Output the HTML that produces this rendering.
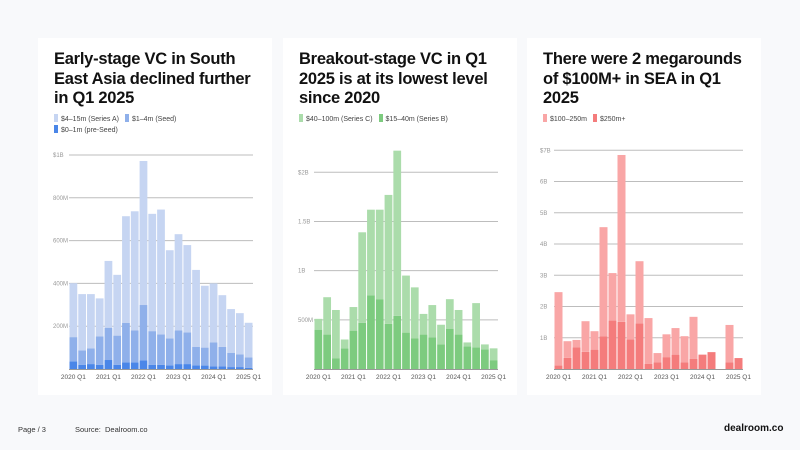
<!DOCTYPE html>
<html><head><meta charset="utf-8">
<style>
body{margin:0;width:800px;height:450px;background:#f8f9fb;font-family:"Liberation Sans",sans-serif;position:relative;overflow:hidden}
.card{position:absolute;top:38px;width:234px;height:357px;background:#fff}
.title{position:absolute;left:16px;top:12px;font-size:16.5px;font-weight:bold;line-height:19.5px;color:#111;letter-spacing:-0.25px;white-space:nowrap}
.legend{position:absolute;left:16px;font-size:7px;color:#444;line-height:11px}
.sw{display:inline-block;width:4px;height:8px;vertical-align:-1px;margin-right:3px}
.lg{margin-right:6px;white-space:nowrap}
svg{position:absolute;left:0;top:0}
.foot{position:absolute;top:425px;font-size:7.5px;color:#333}
</style></head><body>
<div class="card" style="left:38px">
 <div class="title">Early-stage VC in South<br>East Asia declined further<br>in Q1 2025</div>
 <div class="legend" style="top:76px">
  <span class="lg"><span class="sw" style="background:#c6d5f2"></span>$4–15m (Series A)</span><span class="lg"><span class="sw" style="background:#8fb0ea"></span>$1–4m (Seed)</span><br>
  <span class="lg"><span class="sw" style="background:#4a86e8"></span>$0–1m (pre-Seed)</span>
 </div>
</div>
<div class="card" style="left:283px">
 <div class="title">Breakout-stage VC in Q1<br>2025 is at its lowest level<br>since 2020</div>
 <div class="legend" style="top:76px">
  <span class="lg"><span class="sw" style="background:#abdcab"></span>$40–100m (Series C)</span><span class="lg"><span class="sw" style="background:#7dcb7f"></span>$15–40m (Series B)</span>
 </div>
</div>
<div class="card" style="left:527px">
 <div class="title">There were 2 megarounds<br>of $100M+ in SEA in Q1<br>2025</div>
 <div class="legend" style="top:76px">
  <span class="lg"><span class="sw" style="background:#f9a6a6"></span>$100–250m</span><span class="lg"><span class="sw" style="background:#f47c7c"></span>$250m+</span>
 </div>
</div>
<svg id="svg" width="800" height="450"></svg>
<div class="foot" style="left:18px">Page / 3</div>
<div class="foot" style="left:75px">Source:&nbsp; Dealroom.co</div>
<div class="foot" style="left:724px;top:423px;font-size:10px;font-weight:bold;color:#111">dealroom.co</div>
<script>
const quarters = ["2020 Q1","2020 Q2","2020 Q3","2020 Q4","2021 Q1","2021 Q2","2021 Q3","2021 Q4","2022 Q1","2022 Q2","2022 Q3","2022 Q4","2023 Q1","2023 Q2","2023 Q3","2023 Q4","2024 Q1","2024 Q2","2024 Q3","2024 Q4","2025 Q1"];
// Chart 1 ($M)
const preSeed = [36,20,23,20,42,20,31,31,40,20,19,17,23,23,17,16,12,12,9,9,6];
const seed = [113,67,73,132,151,136,184,149,259,157,143,126,157,148,87,84,112,91,67,59,48];
const seriesA = [252,263,254,178,312,284,499,557,673,548,583,412,450,408,359,289,276,242,204,193,162];
const ticks1 = [0,200,400,600,800,1000];
const tickLabels1 = ["","200M","400M","600M","800M","$1B"];
// Chart 2 ($B)
const seriesB = [0.40,0.35,0.11,0.21,0.39,0.47,0.75,0.71,0.46,0.54,0.37,0.31,0.35,0.32,0.25,0.41,0.35,0.23,0.22,0.20,0.09];
const seriesC = [0.11,0.38,0.49,0.09,0.24,0.92,0.87,0.91,1.31,1.68,0.58,0.52,0.21,0.33,0.20,0.30,0.25,0.04,0.45,0.05,0.12];
const ticks2 = [0,0.5,1,1.5,2];
const tickLabels2 = ["","500M","1B","1.5B","$2B"];
// Chart 3 ($B)
const mega250 = [0.11,0.36,0.69,0.55,0.62,1.05,1.55,1.51,0.95,1.46,0.17,0.21,0.38,0.46,0.21,0.33,0.46,0.54,0,0.21,0.35];
const mega100 = [2.35,0.53,0.24,0.98,0.59,3.49,1.52,5.34,0.80,1.99,1.46,0.30,0.73,0.85,0.84,1.34,0,0,0,1.20,0];
const ticks3 = [0,1,2,3,4,5,6,7];
const tickLabels3 = ["","1B","2B","3B","4B","5B","6B","$7B"];
const xLabelIdx = [0,4,8,12,16,20];

const NS="http://www.w3.org/2000/svg";
const svg=document.getElementById('svg');
function mk(t,a,p){const e=document.createElementNS(NS,t);for(const k in a)e.setAttribute(k,a[k]);(p||svg).appendChild(e);return e;}

function chart(cfg){
  const g=mk('g',{});
  
  
  const y=v=>cfg.y0-(v/cfg.max)*(cfg.y0-cfg.yTop);
  cfg.ticks.forEach((t,i)=>{
    if(i===0) return;
    const ln=mk('line',{x1:cfg.x0,x2:cfg.x1,y1:y(t),y2:y(t),stroke:'#bdbdbd','stroke-width':1},g);
    
    
    const tx=mk('text',{x:cfg.labelX,y:y(t)+2,'font-size':6,fill:'#999','font-family':'Liberation Sans, sans-serif'},g);
    tx.textContent=cfg.tickLabels[i];
    
    
  });
  const n=quarters.length, step=(cfg.x1-cfg.x0)/n;
  for(let i=0;i<n;i++){
    let acc=0;
    cfg.series.forEach((s,si)=>{
      const v=s[i]; if(v<=0) return;
      const r=mk('rect',{x:cfg.x0+i*step+0.5,y:y(acc+v),width:step-1,height:y(acc)-y(acc+v),fill:cfg.colors[si]},g);
      
      
      acc+=v;
    });
  }
  mk('line',{x1:cfg.x0,x2:cfg.x1,y1:cfg.y0+0.5,y2:cfg.y0+0.5,stroke:'#999','stroke-width':1},g);
  xLabelIdx.forEach(i=>{
    const tx=mk('text',{x:cfg.x0+(i+0.5)*step,y:cfg.y0+10,'font-size':6.5,fill:'#555','text-anchor':'middle','font-family':'Liberation Sans, sans-serif'},g);
    tx.textContent=quarters[i];
    
    
  });
}
chart({name:'early-stage-chart',x0:69,x1:253,y0:369,yTop:155,max:1000,ticks:ticks1,tickLabels:tickLabels1,labelX:53,series:[preSeed,seed,seriesA],colors:['#4a86e8','#8fb0ea','#c6d5f2']});
chart({name:'breakout-stage-chart',x0:314,x1:498,y0:369,yTop:172.3,max:2,ticks:ticks2,tickLabels:tickLabels2,labelX:298,series:[seriesB,seriesC],colors:['#7dcb7f','#abdcab']});
chart({name:'megarounds-chart',x0:554,x1:743,y0:369,yTop:150.3,max:7,ticks:ticks3,tickLabels:tickLabels3,labelX:540,series:[mega250,mega100],colors:['#f47c7c','#f9a6a6']});
</script>
</body></html>
